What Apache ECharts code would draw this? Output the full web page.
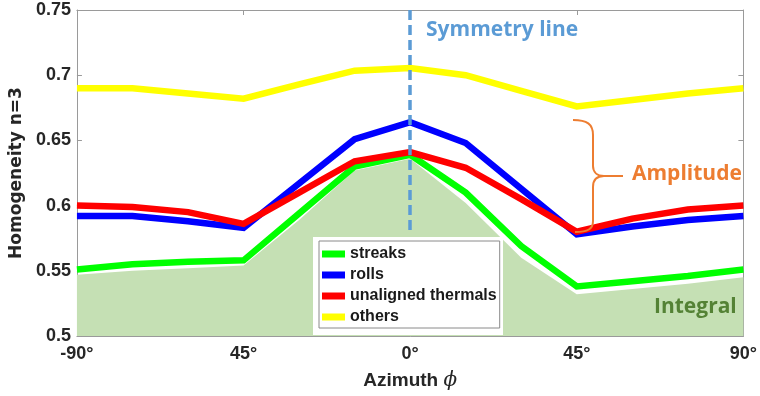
<!DOCTYPE html>
<html><head><meta charset="utf-8">
<script src="https://cdn.jsdelivr.net/npm/echarts@6/dist/echarts.min.js"></script>
<style>html,body{margin:0;padding:0;background:#fff}#c{width:760px;height:396px}</style>
</head><body><div id="c"></div>
<script>
// ---- data ----
const azimuth   = [-90, -75, -60, -45, -30, -15, 0, 15, 30, 45, 60, 75, 90];
const streaks   = [0.551, 0.555, 0.557, 0.558, 0.594, 0.630, 0.639, 0.610, 0.569, 0.538, 0.542, 0.546, 0.551];
const rolls     = [0.592, 0.592, 0.588, 0.583, 0.617, 0.651, 0.664, 0.648, 0.613, 0.578, 0.584, 0.589, 0.592];
const unaligned = [0.600, 0.599, 0.595, 0.586, 0.610, 0.634, 0.641, 0.629, 0.605, 0.580, 0.590, 0.597, 0.600];
const others    = [0.690, 0.690, 0.686, 0.682, 0.693, 0.7035, 0.7055, 0.700, 0.688, 0.676, 0.681, 0.686, 0.690];
const integral  = [0.547, 0.550, 0.552, 0.554, 0.589, 0.627, 0.636, 0.602, 0.560, 0.532, 0.536, 0.540, 0.545];
const seriesNames = ['streaks', 'rolls', 'unaligned thermals', 'others'];
const xTickValues = [-90, -45, 0, 45, 90];
const xTickLabels = ['-90°', '45°', '0°', '45°', '90°'];
const yTickValues = [0.5, 0.55, 0.6, 0.65, 0.7, 0.75];
const yTickLabels = ['0.5', '0.55', '0.6', '0.65', '0.7', '0.75'];
const symmetryLine = {azimuth: 0, top: 0.75, bottom: 0.578};

const zip = arr => azimuth.map((a, i) => [a, arr[i]]);
const chart = echarts.init(document.getElementById('c'), null, {renderer: 'canvas'});
const axisGray = '#9a9a9a';
const labFont = {color: '#262626', fontWeight: 'bold', fontSize: 18, fontFamily: 'Liberation Sans, Arial, sans-serif'};
const calib = 'Open Sans, Lato, sans-serif';
const orange = '#ed7d31';

function lineSeries(name, arr, color, extra) {
  return Object.assign({
    name: name, type: 'line', data: zip(arr), showSymbol: false, symbol: 'none',
    lineStyle: {color: color, width: 6.5, cap: 'butt', join: 'miter'},
    itemStyle: {color: color}, z: 2
  }, extra || {});
}
function bez(x1, y1, cpx1, cpy1, cpx2, cpy2, x2, y2) {
  return {type: 'bezierCurve', z: 20, silent: true, shape: {x1, y1, cpx1, cpy1, cpx2, cpy2, x2, y2}, style: {fill: null, stroke: orange, lineWidth: 2}};
}
function seg(x1, y1, x2, y2) {
  return {type: 'line', z: 20, silent: true, shape: {x1, y1, x2, y2}, style: {stroke: orange, lineWidth: 2}};
}

chart.setOption({
  animation: false,
  backgroundColor: '#fff',
  grid: {left: 75, right: 13, top: 10, bottom: 60, containLabel: false},
  xAxis: [{
    type: 'value', min: -90, max: 90, interval: 45, position: 'bottom',
    name: 'Azimuth {phi|ϕ}', nameLocation: 'middle', nameGap: 35,
    nameTextStyle: Object.assign({}, labFont, {fontSize: 19, rich: {phi: {fontStyle: 'italic', fontWeight: 'normal', fontFamily: 'DejaVu Serif, serif', fontSize: 20, color: '#262626'}}}),
    axisLine: {show: true, onZero: false, lineStyle: {color: axisGray, width: 1}},
    axisTick: {show: true, inside: true, length: 5, lineStyle: {color: axisGray}},
    splitLine: {show: false},
    axisLabel: Object.assign({}, labFont, {margin: 9, formatter: v => { const i = xTickValues.indexOf(v); return i >= 0 ? xTickLabels[i] : ''; }})
  }, {
    type: 'value', min: -90, max: 90, interval: 45, position: 'top',
    axisLine: {show: true, onZero: false, lineStyle: {color: axisGray, width: 1}},
    axisTick: {show: true, inside: true, length: 5, lineStyle: {color: axisGray}},
    axisLabel: {show: false}, splitLine: {show: false}
  }],
  yAxis: [{
    type: 'value', min: 0.5, max: 0.75, interval: 0.05, position: 'left',
    name: 'Homogeneity n=3', nameLocation: 'middle', nameGap: 44, nameRotate: 90,
    nameTextStyle: {color: '#262626', fontWeight: 'bold', fontSize: 17, fontFamily: 'DejaVu Sans, sans-serif'},
    axisLine: {show: true, onZero: false, lineStyle: {color: axisGray, width: 1}},
    axisTick: {show: true, inside: true, length: 5, lineStyle: {color: axisGray}},
    splitLine: {show: false},
    axisLabel: Object.assign({}, labFont, {margin: 6, formatter: v => { const i = yTickValues.findIndex(t => Math.abs(t - v) < 1e-9); return i >= 0 ? yTickLabels[i] : ''; }})
  }, {
    type: 'value', min: 0.5, max: 0.75, interval: 0.05, position: 'right',
    axisLine: {show: true, onZero: false, lineStyle: {color: axisGray, width: 1}},
    axisTick: {show: true, inside: true, length: 5, lineStyle: {color: axisGray}},
    axisLabel: {show: false}, splitLine: {show: false}
  }],
  legend: {
    data: seriesNames, orient: 'vertical', left: 319, top: 241,
    backgroundColor: '#fff', borderColor: '#8a8a8a', borderWidth: 1, borderRadius: 0,
    padding: [5, 3, 3, 3], itemGap: 5, itemWidth: 23, itemHeight: 7, icon: 'rect',
    selectedMode: false,
    textStyle: {color: '#1a1a1a', fontWeight: 'bold', fontSize: 16, lineHeight: 16, fontFamily: 'Liberation Sans, Arial, sans-serif'},
    z: 6
  },
  series: [
    {name: 'Integral', type: 'line', data: zip(integral), showSymbol: false, symbol: 'none',
     lineStyle: {width: 0, color: '#c5e0b4'}, areaStyle: {color: '#c5e0b4', opacity: 1, origin: 'start'}, z: 1, silent: true},
    lineSeries('streaks', streaks, '#00ff00'),
    lineSeries('rolls', rolls, '#0000ff'),
    lineSeries('unaligned thermals', unaligned, '#ff0000'),
    lineSeries('others', others, '#ffff00', {
      markLine: {
        silent: true, symbol: 'none', z: 10, animation: false,
        label: {show: false},
        lineStyle: {color: '#5b9bd5', width: 3.5, type: [10, 5]},
        data: [[{coord: [symmetryLine.azimuth, symmetryLine.top]}, {coord: [symmetryLine.azimuth, symmetryLine.bottom]}]]
      }
    })
  ],
  graphic: [
    {type: 'rect', z: 5, silent: true, shape: {x: 313, y: 237, width: 190, height: 98}, style: {fill: '#fff'}},
    {type: 'text', z: 20, silent: true, style: {text: 'Symmetry line', x: 426, y: 30, fill: '#5b9bd5', font: 'bold 21px ' + calib, textAlign: 'left', textVerticalAlign: 'middle'}},
    {type: 'text', z: 20, silent: true, style: {text: 'Amplitude', x: 632, y: 174, fill: orange, font: 'bold 21px ' + calib, textAlign: 'left', textVerticalAlign: 'middle'}},
    {type: 'text', z: 20, silent: true, style: {text: 'Integral', x: 654, y: 307, fill: '#548235', font: 'bold 21px ' + calib, textAlign: 'left', textVerticalAlign: 'middle'}},
    bez(573, 120, 587, 120, 593, 124, 593, 135),
    seg(593, 135, 593, 166),
    bez(593, 166, 593, 172, 597, 176, 604, 176),
    bez(604, 176, 597, 176, 593, 180, 593, 187),
    seg(593, 187, 593, 221),
    bez(593, 221, 593, 229, 588, 232, 575, 232),
    seg(604, 176, 623, 176)
  ]
});
</script></body></html>
